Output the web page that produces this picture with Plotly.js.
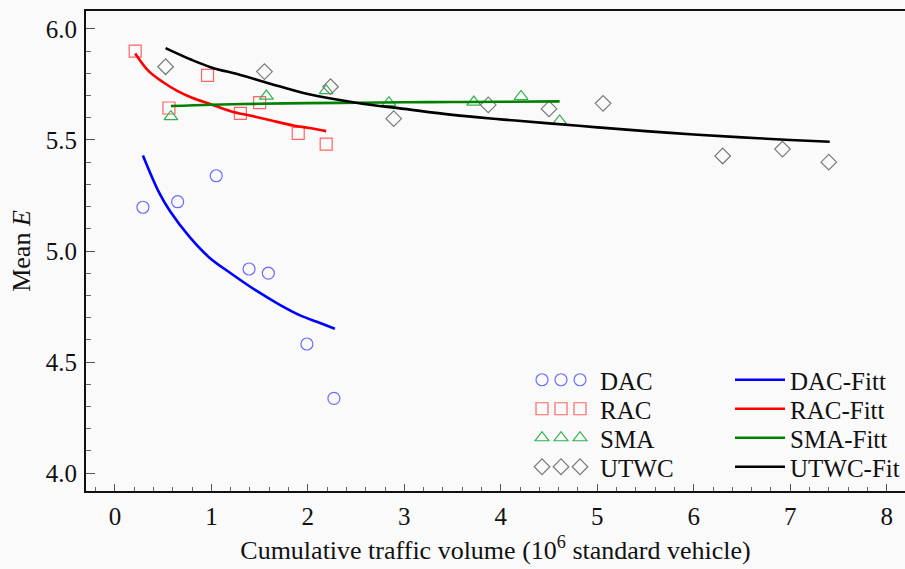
<!DOCTYPE html>
<html>
<head>
<meta charset="utf-8">
<script src="https://cdn.plot.ly/plotly-3.0.1.min.js"></script>
<style>html,body{margin:0;padding:0;background:#fafafa;}#chart{width:905px;height:569px;}</style>
</head>
<body>
<div id="chart"></div>
<script>
// Measured points
const dacX = [0.29, 0.65, 1.05, 1.39, 1.59, 1.99, 2.27];
const dacY = [5.197, 5.222, 5.339, 4.919, 4.900, 4.581, 4.336];
const racX = [0.21, 0.56, 0.96, 1.30, 1.50, 1.90, 2.19];
const racY = [5.900, 5.644, 5.791, 5.620, 5.668, 5.530, 5.481];
const smaX = [0.58, 1.57, 2.19, 2.84, 3.72, 4.21, 4.61];
const smaY = [5.605, 5.698, 5.722, 5.668, 5.671, 5.696, 5.586];
const utwcX = [0.525, 1.55, 2.235, 2.89, 3.87, 4.50, 5.06, 6.30, 6.92, 7.40];
const utwcY = [5.830, 5.808, 5.740, 5.596, 5.658, 5.640, 5.665, 5.428, 5.459, 5.400];

// Fitted curves
const dacFitX = [0.29, 0.45, 0.57, 0.78, 0.98, 1.2, 1.47, 1.7, 1.92, 2.1, 2.28];
const dacFitY = [5.43, 5.27, 5.18, 5.06, 4.97, 4.90, 4.82, 4.76, 4.71, 4.68, 4.65];
const racFitX = [0.21, 0.35, 0.5, 0.65, 0.8, 1.0, 1.2, 1.4, 1.6, 1.85, 2.0, 2.19];
const racFitY = [5.89, 5.81, 5.76, 5.72, 5.69, 5.66, 5.63, 5.61, 5.59, 5.565, 5.555, 5.54];
const smaFitX = [0.58, 1.0, 1.5, 2.0, 2.5, 3.0, 3.5, 4.0, 4.61];
const smaFitY = [5.653, 5.659, 5.663, 5.666, 5.668, 5.670, 5.671, 5.672, 5.674];
const utwcFitX = [0.525, 0.8, 1.0, 1.3, 1.6, 2.0, 2.5, 3.0, 3.5, 4.0, 4.5, 5.0, 5.5, 6.0, 6.5, 7.0, 7.41];
const utwcFitY = [5.914, 5.86, 5.827, 5.793, 5.755, 5.707, 5.668, 5.64, 5.613, 5.593, 5.575, 5.557, 5.54, 5.525, 5.512, 5.50, 5.492];

const xTicks = [0, 1, 2, 3, 4, 5, 6, 7, 8];
const yTicks = [4.0, 4.5, 5.0, 5.5, 6.0];

const FONT = 'Liberation Serif';
const FS = 26;
const TFS = 25;
const LFS = 25;

const ptsNames = ['DAC', 'RAC', 'SMA', 'UTWC'];
const ptsX = [dacX, racX, smaX, utwcX];
const ptsY = [dacY, racY, smaY, utwcY];
const ptsSymbols = ['circle-open', 'square-open', 'triangle-up-open', 'diamond-open'];
const ptsColors = ['#6b6bff', '#ff6464', '#2eb34d', '#7a7a7a'];

const fitNames = ['DAC-Fitt', 'RAC-Fitt', 'SMA-Fitt', 'UTWC-Fit'];
const fitX = [dacFitX, racFitX, smaFitX, utwcFitX];
const fitY = [dacFitY, racFitY, smaFitY, utwcFitY];
const fitColors = ['#0000ff', '#ff0000', '#008000', '#000000'];

const rowPix = [380, 409, 438, 467];     // legend row centres (px)
const symPix = [522, 541, 560];          // legend box left edges for the three symbols (px)
const plotTop = 11, plotBottom = 491, plotLeft = 86, plotRight = 905;
const toPaperY = p => (plotBottom - p) / (plotBottom - plotTop);
const toPaperX = p => (p - plotLeft) / (plotRight - plotLeft);

const data = [];
const layout = {
  width: 905, height: 569,
  margin: {l: plotLeft, r: 905 - plotRight, t: plotTop, b: 569 - plotBottom, autoexpand: false},
  paper_bgcolor: '#fafafa', plot_bgcolor: '#fafafa',
  showlegend: true,
  xaxis: {
    automargin: false,
    range: [-0.30, 8.19], tickvals: xTicks, ticktext: xTicks.map(String),
    showgrid: false, zeroline: false, showline: true, linecolor: '#111', linewidth: 2, mirror: true,
    ticks: 'inside', ticklen: 7, tickwidth: 1, tickcolor: '#555',
    minor: {dtick: 0.2, ticks: 'inside', ticklen: 4, tickcolor: '#666', tickwidth: 1, showgrid: false},
    ticklabelstandoff: 2,
    tickfont: {family: FONT, size: TFS, color: '#111'},
    title: {text: 'Cumulative traffic volume (10<sup>6</sup> standard vehicle)', font: {family: FONT, size: FS, color: '#111'}, standoff: 12}
  },
  yaxis: {
    automargin: false,
    range: [3.919, 6.081], tickvals: yTicks, ticktext: yTicks.map(v => v.toFixed(1)),
    showgrid: false, zeroline: false, showline: true, linecolor: '#111', linewidth: 2, mirror: false,
    ticks: 'inside', ticklen: 9, tickwidth: 1, tickcolor: '#555',
    minor: {dtick: 0.1, ticks: 'inside', ticklen: 5, tickcolor: '#666', tickwidth: 1, showgrid: false},
    ticklabelstandoff: 2,
    tickfont: {family: FONT, size: TFS, color: '#111'},
    title: {text: 'Mean <i>E</i>', font: {family: FONT, size: FS, color: '#111'}, standoff: 8}
  }
};

let lgIndex = 0;
function nextLegend() { lgIndex++; return lgIndex === 1 ? 'legend' : 'legend' + lgIndex; }
function legendBox(xPix, yPix, itemwidth) {
  return {x: toPaperX(xPix), y: toPaperY(yPix), xanchor: 'left', yanchor: 'middle',
    bgcolor: 'rgba(0,0,0,0)', font: {family: FONT, size: LFS, color: '#111'}, itemwidth: itemwidth};
}

// marker series: three legend symbols per row (two legend-only helpers + the data trace)
for (let i = 0; i < 4; i++) {
  const marker = {symbol: ptsSymbols[i], size: 12, color: ptsColors[i], line: {color: ptsColors[i], width: 1.2}};
  for (let k = 0; k < 3; k++) {
    const lg = nextLegend();
    layout[lg] = legendBox(symPix[k], rowPix[i], 30);
    if (k < 2) {
      data.push({type: 'scatter', mode: 'markers', name: ' ', x: [null], y: [null], legend: lg,
        marker: marker, hoverinfo: 'skip'});
    } else {
      data.push({type: 'scatter', mode: 'markers', name: ptsNames[i], x: ptsX[i], y: ptsY[i], legend: lg, marker: marker});
    }
  }
}
// fitted curves: one legend per row
for (let i = 0; i < 4; i++) {
  const lg = nextLegend();
  layout[lg] = legendBox(730, rowPix[i], 50);
  data.push({type: 'scatter', mode: 'lines', name: fitNames[i], x: fitX[i], y: fitY[i], legend: lg,
    line: {color: fitColors[i], width: 2.6, shape: 'spline'}});
}

Plotly.newPlot('chart', data, layout, {displayModeBar: false, staticPlot: true});
</script>
</body>
</html>
